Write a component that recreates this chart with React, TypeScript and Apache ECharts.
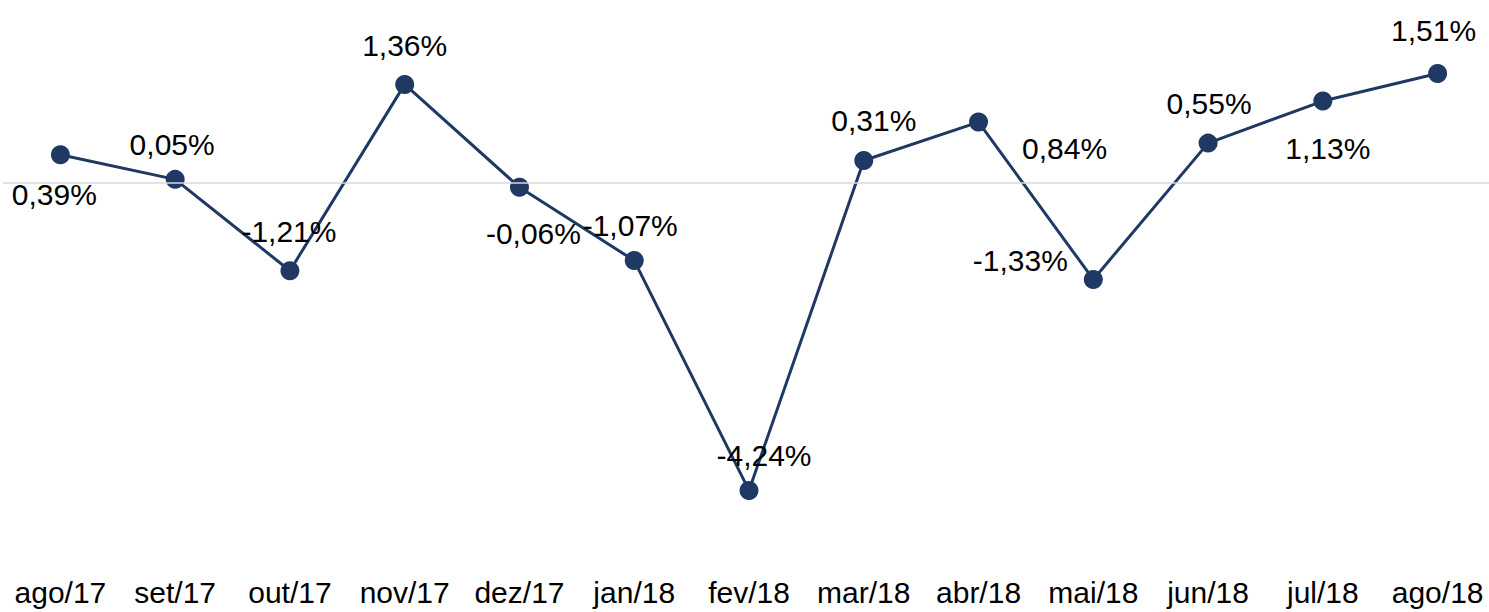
import React, { useEffect, useRef } from "react";
import * as echarts from "echarts";

const categories = ["ago/17", "set/17", "out/17", "nov/17", "dez/17", "jan/18", "fev/18", "mar/18", "abr/18", "mai/18", "jun/18", "jul/18", "ago/18"];
const values = [0.39, 0.05, -1.21, 1.36, -0.06, -1.07, -4.24, 0.31, 0.84, -1.33, 0.55, 1.13, 1.51];
// label offsets (layout only) relative to each point
const labelOffsets: [number, number][] = [
  [-6, 40], [-3, -35], [-1, -39], [0, -39], [14, 46], [-4, -35], [15, -35],
  [10, -40], [86, 26], [-73, -19], [1, -40], [5, 47], [-4, -43],
];

const FONT = "'Liberation Sans', Arial, sans-serif";

function fmt(v: number) {
  return v.toFixed(2).replace(".", ",") + "%";
}

export default function App() {
  const ref = useRef<HTMLDivElement>(null);
  useEffect(() => {
    document.body.style.margin = "0";
    const chart = echarts.init(ref.current!, null, { renderer: "svg" });
    chart.setOption({
      animation: false,
      grid: { left: 3, right: -6, top: 38, height: 507.5, outerBoundsMode: "none", containLabel: false },
      xAxis: {
        type: "category",
        data: categories,
        boundaryGap: true,
        axisLine: { show: false },
        axisTick: { show: false },
        axisLabel: { color: "#000", fontSize: 30, fontFamily: FONT, margin: 32, interval: 0 },
        splitLine: { show: false },
      },
      yAxis: {
        type: "value",
        min: -5,
        max: 2,
        show: false,
        splitLine: { show: false },
      },
      series: [
        {
          type: "line",
          data: values.map((v, i) => ({
            value: v,
            label: { offset: labelOffsets[i] },
          })),
          symbol: "circle",
          symbolSize: 19,
          lineStyle: { color: "#203864", width: 3 },
          itemStyle: { color: "#203864" },
          label: {
            show: true,
            position: "inside",
            align: "center",
            verticalAlign: "middle",
            color: "#000",
            fontSize: 30,
            fontFamily: FONT,
            formatter: (p: any) => fmt(p.value),
          },
          markLine: {
            silent: true,
            symbol: "none",
            label: { show: false },
            lineStyle: { color: "#d9d9d9", width: 1.5, type: "solid" },
            data: [{ yAxis: 0 }],
          },
          z: 3,
        },
      ],
    });
    return () => chart.dispose();
  }, []);
  return <div ref={ref} style={{ width: 1489, height: 612 }} />;
}
